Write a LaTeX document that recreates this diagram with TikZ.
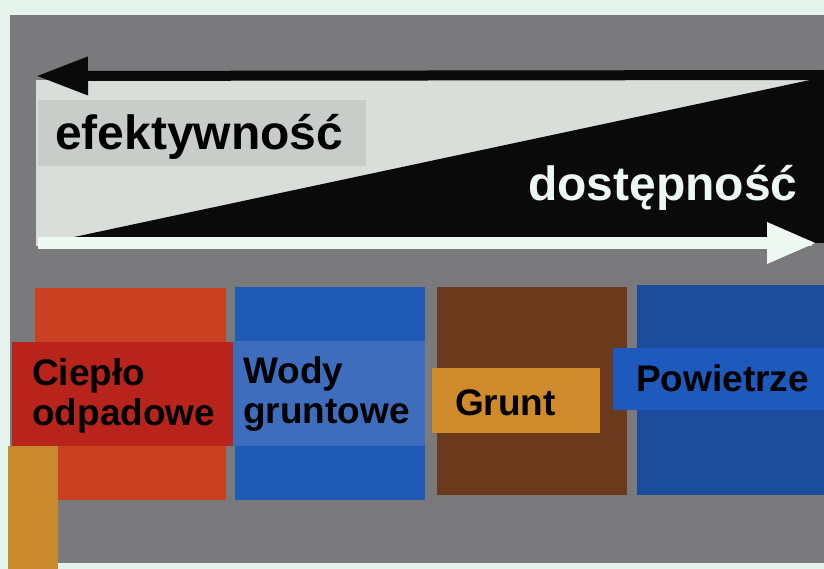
\documentclass[tikz,border=0pt]{standalone}
\usepackage{fontspec}
\setmainfont{Liberation Sans}
\usetikzlibrary{arrows.meta}
\definecolor{mintbg}{HTML}{E4F3EC}
\definecolor{panelgray}{HTML}{7A7A7C}
\definecolor{lightarea}{HTML}{D9DEDB}
\definecolor{effbox}{HTML}{C9CDCA}
\definecolor{nearblack}{HTML}{0A0A0A}
\definecolor{arrowwhite}{HTML}{EEF8F2}
\definecolor{redbox}{HTML}{C8401F}
\definecolor{bluebox}{HTML}{1F5BB5}
\definecolor{brownbox}{HTML}{6B3A1C}
\definecolor{blueboxb}{HTML}{1C4C9C}
\definecolor{redlabel}{HTML}{B8241C}
\definecolor{bluelabel}{HTML}{3E6DBE}
\definecolor{orangelabel}{HTML}{CF8A2C}
\definecolor{orangestrip}{HTML}{C98A2E}
\definecolor{airlabel}{HTML}{1E59BE}
\tikzset{
  bigtext/.style={font=\fontsize{48}{48}\selectfont\bfseries, inner sep=0pt, anchor=base west},
  labeltext/.style={font=\fontsize{37}{40}\selectfont\bfseries, inner sep=0pt, anchor=base west, align=left, text=black},
}
\begin{document}
\begin{tikzpicture}[x=1pt,y=-1pt]
\useasboundingbox (0,0) rectangle (824,569);
\fill[mintbg] (0,0) rectangle (824,569);
\fill[panelgray] (10,15) rectangle (824,563);
% light area and black triangle
\fill[lightarea] (36,80) rectangle (812,246);
\fill[effbox] (38,100) rectangle (366,166);
\fill[nearblack] (46,243) -- (810,80) -- (824,80) -- (824,243) -- cycle;
\fill[nearblack] (510,155) rectangle (800,226);
% arrows
\coordinate (topR) at (824,75);
\coordinate (topL) at (36,76);
\draw[nearblack, line width=10pt, -{Triangle[length=52pt,width=36pt]}] (topR) -- (topL);
\coordinate (botL) at (38,243);
\coordinate (botR) at (817,243);
\draw[arrowwhite, line width=12pt, -{Triangle[length=50pt,width=38pt]}] (botL) -- (botR);
% texts on top
\node[bigtext, text=black] (eff) at (55,150) {efektywność};
\node[bigtext, text=arrowwhite] (dost) at (528,201) {dostępność};
% boxes
\fill[redbox] (35,288) rectangle (226,500);
\fill[bluebox] (235,287) rectangle (425,500);
\fill[brownbox] (437,287) rectangle (627,495);
\fill[blueboxb] (637,285) rectangle (824,495);
% labels
\fill[redlabel] (12,342) rectangle (233,446);
\fill[orangestrip] (8,446) rectangle (58,569);
\fill[bluelabel] (233,341) rectangle (425,446);
\fill[orangelabel] (432,368) rectangle (600,433);
\fill[airlabel] (613,348) rectangle (824,410);
\node[labeltext] (cieplo) at (32,425) {Ciepło\\odpadowe};
\node[labeltext] (wody) at (243,423) {Wody\\gruntowe};
\node[labeltext] (grunt) at (455,415) {Grunt};
\node[labeltext] (powietrze) at (636,391) {Powietrze};
\end{tikzpicture}
\end{document}
